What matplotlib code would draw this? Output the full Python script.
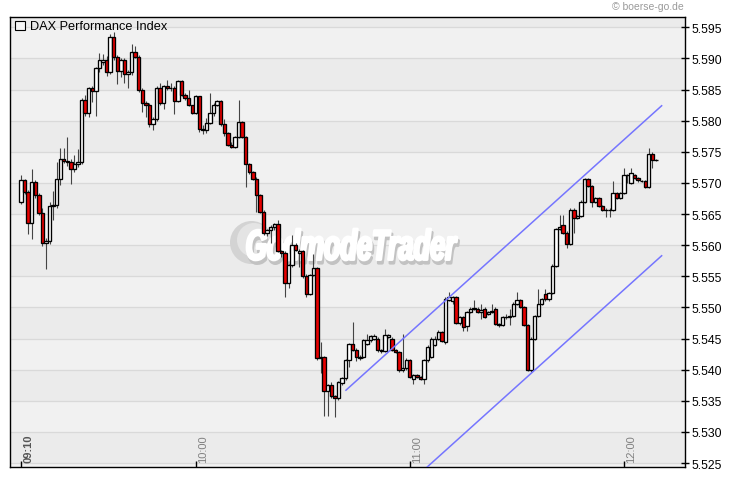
import matplotlib
matplotlib.use('Agg')
import matplotlib.pyplot as plt
import numpy as np
from matplotlib.patches import Rectangle, Ellipse, PathPatch
from matplotlib.textpath import TextPath
from matplotlib.font_manager import FontProperties
from matplotlib.transforms import Affine2D

plt.rcParams['font.family'] = ['Liberation Sans', 'DejaVu Sans']

# one-minute candles, DAX, 09:10 .. ~12:08
opens = [5566.9, 5570.4, 5568.5, 5563.5, 5570.2, 5568.0, 5565.2, 5560.3, 5560.7, 5566.3,
         5566.4, 5570.6, 5573.9, 5573.6, 5573.4, 5572.2, 5573.1, 5573.4, 5583.4, 5581.3,
         5585.2, 5584.8, 5588.5, 5589.5, 5589.8, 5587.9, 5593.4, 5590.2, 5588.0, 5589.8,
         5587.5, 5587.9, 5591.1, 5590.3, 5584.9, 5582.9, 5582.6, 5579.4, 5580.2, 5585.2,
         5582.9, 5585.6, 5585.2, 5585.3, 5583.2, 5586.3, 5584.2, 5583.6, 5582.5, 5581.3,
         5583.9, 5578.6, 5578.5, 5579.7, 5581.2, 5582.6, 5583.1, 5579.4, 5578.0, 5576.1,
         5575.8, 5577.4, 5579.8, 5577.4, 5573.0, 5571.7, 5570.7, 5568.0, 5565.4, 5561.9,
         5562.4, 5562.9, 5563.4, 5559.1, 5558.7, 5553.9, 5556.8, 5560.1, 5558.8, 5559.1,
         5555.1, 5552.2, 5555.2, 5556.3, 5541.8, 5542.0, 5536.6, 5537.5, 5535.7, 5535.4,
         5537.8, 5538.7, 5541.5, 5544.1, 5543.2, 5541.8, 5542.0, 5544.2, 5544.7, 5545.0,
         5545.0, 5543.1, 5543.0, 5545.3, 5545.0, 5543.1, 5542.8, 5539.9, 5540.2, 5541.5,
         5538.5, 5539.1, 5538.8, 5538.5, 5541.5, 5542.0, 5544.0, 5545.0, 5546.0, 5544.4,
         5551.2, 5551.0, 5551.7, 5547.5, 5548.5, 5547.0, 5549.3, 5549.8, 5549.8, 5549.3,
         5549.8, 5549.0, 5549.3, 5549.8, 5547.3, 5547.2, 5548.5, 5548.5, 5548.6, 5550.6,
         5551.2, 5550.1, 5547.2, 5540.0, 5545.0, 5548.6, 5550.6, 5552.2, 5551.3, 5552.3,
         5556.7, 5562.6, 5563.3, 5562.0, 5560.2, 5565.7, 5564.4, 5564.7, 5567.0, 5570.6,
         5569.5, 5567.0, 5567.6, 5566.3, 5565.7, 5565.7, 5565.7, 5568.4, 5567.6, 5568.4,
         5571.2, 5570.0, 5571.3, 5570.8, 5570.3, 5570.3, 5569.4, 5574.7, 5573.7]
highs = [5571.2, 5570.6, 5568.8, 5572.2, 5570.5, 5568.4, 5566.0, 5561.2, 5567.0, 5568.7,
         5573.3, 5575.6, 5575.6, 5577.4, 5573.8, 5574.5, 5575.4, 5583.6, 5584.2, 5585.4,
         5585.5, 5588.7, 5590.8, 5590.7, 5590.4, 5594.0, 5594.2, 5590.5, 5590.0, 5590.0,
         5588.2, 5592.3, 5592.0, 5590.5, 5585.2, 5583.2, 5582.8, 5580.6, 5585.6, 5586.0,
         5585.8, 5586.5, 5586.0, 5585.5, 5586.5, 5586.5, 5584.4, 5585.0, 5582.6, 5584.2,
         5584.0, 5579.3, 5580.5, 5584.4, 5582.8, 5583.3, 5583.3, 5580.2, 5578.2, 5576.5,
         5577.6, 5583.4, 5580.0, 5577.6, 5573.2, 5571.9, 5570.9, 5568.2, 5565.6, 5562.6,
         5563.2, 5563.6, 5564.0, 5559.3, 5559.0, 5557.0, 5561.7, 5560.3, 5559.4, 5559.3,
         5555.3, 5555.4, 5558.6, 5556.5, 5544.5, 5542.2, 5537.7, 5538.0, 5535.9, 5538.2,
         5538.9, 5541.7, 5544.3, 5547.6, 5543.4, 5542.4, 5545.0, 5545.8, 5545.6, 5545.8,
         5545.2, 5543.3, 5546.6, 5545.7, 5545.3, 5543.3, 5543.0, 5545.8, 5541.8, 5541.7,
         5539.3, 5539.3, 5539.0, 5541.7, 5543.9, 5545.3, 5545.4, 5546.3, 5546.2, 5551.6,
         5552.4, 5551.9, 5551.9, 5548.7, 5548.7, 5549.5, 5550.0, 5551.2, 5550.0, 5550.6,
         5550.0, 5549.5, 5550.6, 5550.0, 5547.5, 5548.7, 5548.9, 5549.8, 5550.8, 5552.5,
         5551.4, 5550.3, 5547.4, 5545.2, 5548.8, 5552.9, 5551.5, 5552.9, 5552.5, 5556.9,
         5562.8, 5564.9, 5564.9, 5562.2, 5565.9, 5565.9, 5564.9, 5567.2, 5570.8, 5570.8,
         5569.7, 5567.8, 5567.8, 5566.5, 5565.9, 5565.9, 5570.3, 5568.6, 5568.6, 5572.4,
         5571.4, 5572.4, 5571.5, 5571.0, 5570.5, 5570.5, 5575.6, 5574.9, 5573.9]
lows = [5566.6, 5568.3, 5561.8, 5561.0, 5567.6, 5564.8, 5559.8, 5556.1, 5560.2, 5564.0,
        5566.0, 5569.6, 5573.2, 5572.8, 5569.8, 5571.8, 5572.6, 5573.0, 5580.8, 5580.6,
        5583.0, 5580.8, 5587.8, 5589.0, 5587.2, 5587.5, 5589.8, 5585.9, 5587.0, 5586.0,
        5585.2, 5587.4, 5590.0, 5584.6, 5581.4, 5580.6, 5579.0, 5578.5, 5580.0, 5582.5,
        5581.8, 5585.0, 5584.8, 5581.0, 5583.0, 5584.0, 5583.4, 5582.3, 5581.0, 5581.0,
        5578.2, 5577.8, 5578.0, 5579.5, 5580.8, 5582.4, 5579.2, 5577.6, 5576.0, 5575.6,
        5575.6, 5577.2, 5577.2, 5569.3, 5571.5, 5570.5, 5565.3, 5565.2, 5561.6, 5561.5,
        5560.3, 5562.5, 5558.9, 5558.1, 5551.7, 5553.1, 5556.5, 5559.0, 5556.5, 5554.8,
        5551.7, 5552.0, 5555.0, 5541.5, 5539.5, 5532.6, 5532.6, 5535.4, 5532.4, 5535.2,
        5537.6, 5538.4, 5540.4, 5543.0, 5541.4, 5541.6, 5541.8, 5544.0, 5544.5, 5544.8,
        5542.8, 5542.6, 5542.8, 5545.1, 5543.0, 5542.6, 5539.7, 5539.7, 5540.0, 5538.6,
        5537.7, 5538.6, 5538.3, 5537.7, 5541.2, 5541.8, 5543.8, 5544.8, 5544.4, 5544.2,
        5551.0, 5550.5, 5547.3, 5547.2, 5546.2, 5546.2, 5549.1, 5549.6, 5549.1, 5548.2,
        5548.3, 5548.8, 5549.1, 5547.1, 5546.9, 5547.0, 5548.2, 5547.2, 5548.4, 5550.4,
        5549.9, 5547.0, 5539.8, 5539.6, 5544.8, 5548.4, 5550.4, 5551.1, 5551.1, 5552.1,
        5556.5, 5562.4, 5561.8, 5559.5, 5560.0, 5561.9, 5564.2, 5564.5, 5566.8, 5569.3,
        5566.2, 5566.8, 5566.1, 5565.5, 5564.6, 5564.6, 5565.5, 5567.4, 5567.4, 5568.2,
        5570.0, 5569.8, 5570.6, 5570.2, 5570.1, 5569.2, 5569.2, 5572.4, 5573.5]
closes = [5570.4, 5568.5, 5563.5, 5570.2, 5568.0, 5565.2, 5560.3, 5560.7, 5566.3, 5566.4,
          5570.6, 5573.9, 5573.6, 5573.4, 5572.2, 5573.1, 5573.4, 5583.4, 5581.3, 5585.2,
          5584.8, 5588.5, 5589.8, 5589.8, 5587.9, 5593.4, 5590.2, 5588.0, 5589.8, 5587.5,
          5587.9, 5591.1, 5590.3, 5584.9, 5582.9, 5582.6, 5579.4, 5580.2, 5585.2, 5582.9,
          5585.6, 5585.2, 5585.3, 5583.2, 5586.3, 5584.2, 5583.6, 5582.5, 5581.3, 5583.9,
          5578.6, 5578.5, 5579.7, 5581.2, 5582.6, 5583.1, 5579.4, 5578.0, 5576.1, 5575.8,
          5577.4, 5579.8, 5577.4, 5573.0, 5571.7, 5570.7, 5568.0, 5565.4, 5561.9, 5562.4,
          5562.9, 5563.4, 5559.1, 5558.7, 5553.9, 5556.8, 5560.1, 5559.2, 5559.1, 5555.1,
          5552.2, 5555.2, 5556.3, 5541.8, 5542.0, 5536.6, 5537.5, 5535.7, 5535.4, 5538.0,
          5538.7, 5541.5, 5544.1, 5543.2, 5542.0, 5542.0, 5544.8, 5544.8, 5545.4, 5545.4,
          5543.1, 5543.0, 5545.5, 5545.5, 5543.1, 5542.8, 5539.9, 5540.2, 5541.5, 5538.8,
          5539.1, 5538.8, 5538.5, 5541.5, 5543.7, 5545.0, 5545.0, 5546.0, 5544.6, 5551.4,
          5551.7, 5551.7, 5547.5, 5548.5, 5546.8, 5549.3, 5549.8, 5549.9, 5549.3, 5549.6,
          5548.5, 5549.3, 5549.4, 5547.3, 5547.2, 5548.5, 5548.5, 5548.6, 5550.6, 5551.2,
          5550.1, 5547.2, 5540.0, 5545.0, 5548.6, 5550.6, 5551.3, 5551.3, 5552.3, 5556.7,
          5562.6, 5562.9, 5562.0, 5560.2, 5565.7, 5564.4, 5564.7, 5567.0, 5570.6, 5569.5,
          5567.0, 5567.6, 5566.3, 5565.7, 5565.7, 5565.7, 5568.4, 5567.6, 5568.4, 5571.2,
          5571.2, 5571.6, 5570.8, 5570.4, 5570.3, 5569.4, 5574.7, 5573.7, 5573.7]

# trend channel (candle index, index level)
upper_x = [91.1, 179.6]
upper_y = [5536.7, 5582.4]
lower_x = [91.1, 179.6]
lower_y = [5512.6, 5558.3]

yticks = [5525, 5530, 5535, 5540, 5545, 5550, 5555, 5560, 5565, 5570, 5575, 5580, 5585, 5590, 5595]
xtick_pos = [0, 49, 109, 169]
xtick_labels = ['09:10', '10:00', '11:00', '12:00']

W, H = 730, 481
fig = plt.figure(figsize=(W / 100, H / 100), dpi=100)
ax = fig.add_axes([10 / W, 13 / H, 675 / W, 450 / H])
ax.set_facecolor('#f1f1f1')

# alternating bands + grid
for t in yticks[::2]:
    ax.axhspan(t, t + 5, color='#ebebeb', lw=0, zorder=0)
for t in yticks:
    ax.axhline(t, color='#d9d9d9', lw=0.9, zorder=0.5)

# watermark
circ_tr = fig.transFigure
ax.add_patch(Ellipse((251.5 / W, 1 - 243.5 / H), 43 / W, 43 / H, transform=circ_tr,
                     fc='#d3d3d3', ec='none', zorder=1))
ax.add_patch(Ellipse((254 / W, 1 - 241 / H), 34 / W, 34 / H, transform=circ_tr,
                     fc='#e4e4e4', ec='none', zorder=1))
fp = FontProperties(family='Liberation Sans', weight='bold', style='italic')
tp = TextPath((0, 0), 'GodmodeTrader', size=1, prop=fp)
bb = tp.get_extents()
sx = 210 / bb.width
sy = 31 / bb.height
for dx, dy, fc, lw in [(1.5, -3.5, '#c2c2c2', 2.2), (0, 0, 'white', 2.0)]:
    tr = (Affine2D().translate(-bb.x0, -bb.y0).scale(sx / W, sy / H)
          .translate((247 + dx) / W, (H - 261 + dy) / H) + fig.transFigure)
    ax.add_patch(PathPatch(tp, transform=tr, fc=fc, ec=fc, lw=lw, zorder=1.2,
                           joinstyle='round'))

# candles
o = np.array(opens)
h = np.array(highs)
l = np.array(lows)
c = np.array(closes)
x = np.arange(len(c))
ax.vlines(x, l, h, color='#444444', lw=0.8, zorder=2)
ax.bar(x, np.abs(c - o), bottom=np.minimum(o, c), width=0.95,
       color=np.where(c >= o, 'white', '#e60000'), edgecolor='black', lw=0.95, zorder=3)

# channel
ax.plot(upper_x, upper_y, color='#7575ff', lw=1.1, zorder=4)
ax.plot(lower_x, lower_y, color='#7575ff', lw=1.1, zorder=4)

ax.set_xlim(-3.08, 186.15)
ax.set_ylim(5524.36, 5596.66)

for s in ax.spines.values():
    s.set_color('black')
    s.set_linewidth(1)

ax.yaxis.tick_right()
ax.set_yticks(yticks)
ax.set_yticklabels([f'{v / 1000:.3f}' for v in yticks])
ax.tick_params(axis='y', direction='inout', length=6, width=1, labelsize=8.8, pad=2)
ax.set_xticks(xtick_pos)
ax.set_xticklabels([])
ax.tick_params(axis='x', direction='in', length=4, width=1)

for i, (p, lab) in enumerate(zip(xtick_pos, xtick_labels)):
    ax.annotate(lab, xy=(p, 0), xycoords=('data', 'axes fraction'),
                xytext=(1.5, 3.5), textcoords='offset points', rotation=90,
                ha='left', va='bottom', fontsize=8,
                color='#555555' if i == 0 else '#808080',
                fontweight='bold' if i == 0 else 'normal')

# legend box + title
fig.add_artist(Rectangle((15 / W, 1 - 31 / H), 10 / W, 9 / H, transform=fig.transFigure,
                         fc='#f6f6f6', ec='black', lw=0.8))
fig.text(30 / W, 1 - 26.5 / H, 'DAX Performance Index', fontsize=9.2, va='center')
fig.text(684 / W, 1 - 7 / H, '\u00a9 boerse-go.de', ha='right', va='center',
         fontsize=7.5, color='#9a9a9a')

fig.savefig('out.png', dpi=100)
